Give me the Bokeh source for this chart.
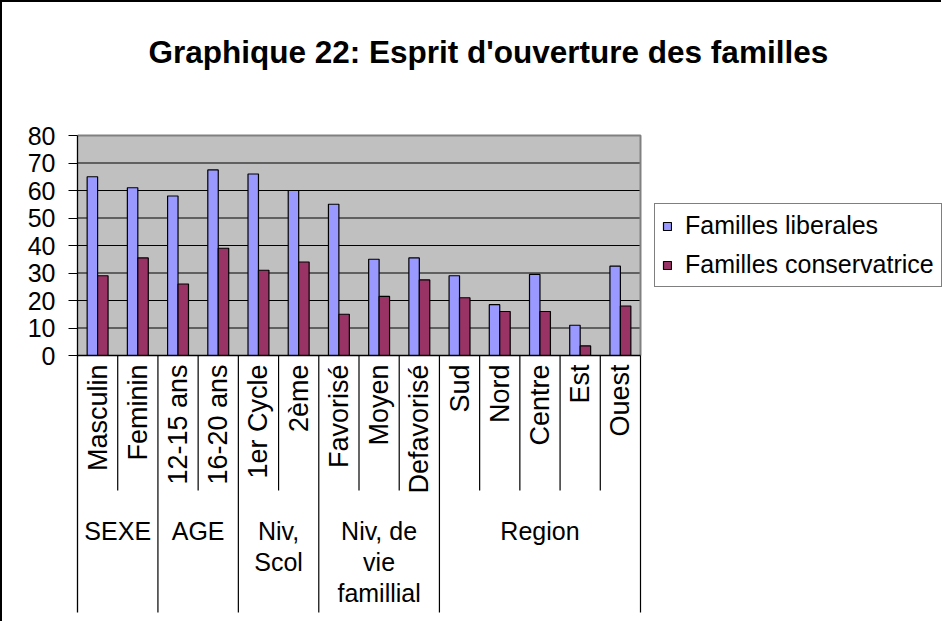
from math import pi
from bokeh.plotting import figure
from bokeh.models import Range1d, FixedTicker, Legend, LegendItem
from bokeh.core.properties import value
from bokeh.embed import file_html
from bokeh.resources import INLINE

# ---------------- data ----------------
title_text = "Graphique 22: Esprit d'ouverture des familles"
categories = ["Masculin", "Feminin", "12-15 ans", "16-20 ans", "1er Cycle", "2ème",
              "Favorisé", "Moyen", "Defavorisé", "Sud", "Nord", "Centre", "Est", "Ouest"]
familles_liberales = [65, 61, 58, 67.5, 66, 60, 55, 35, 35.5, 29, 18.5, 29.5, 11, 32.5]
familles_conservatrices = [29, 35.5, 26, 39, 31, 34, 15, 21.5, 27.5, 21, 16, 16, 3.5, 18]
series_names = ["Familles liberales", "Familles conservatrice"]
group_names = ["SEXE", "AGE", "Niv,\nScol", "Niv, de\nvie\nfamillial", "Region"]
group_sizes = [2, 2, 2, 3, 5]
y_ticks = [0, 10, 20, 30, 40, 50, 60, 70, 80]

# ---------------- layout ----------------
W, H = 941, 621
LEFT, TOP = 75, 75
PX_CAT = 563 / 14
PX_UNIT = 220 / 80
ZERO_Y = 353
AREA_TOP = 133
FONT = "Liberation Sans"

n = len(categories)
ymax = y_ticks[-1]
x_end = (W - LEFT) / PX_CAT
y_start = -(H - ZERO_Y) / PX_UNIT
y_end = ymax + (AREA_TOP - TOP) / PX_UNIT


def px_to_y(canvas_y):
    return -(canvas_y - ZERO_Y) / PX_UNIT


p = figure(width=W, height=H, x_range=Range1d(0, x_end), y_range=Range1d(y_start, y_end),
           output_backend="svg", toolbar_location=None, x_axis_location=None,
           min_border_left=LEFT, min_border_top=TOP, min_border_right=0, min_border_bottom=0,
           outline_line_color=None, background_fill_color="white", border_fill_color="white")
p.styles = {"border-left": "2px solid black", "border-top": "2px solid black"}
p.grid.visible = False

# title
p.title.text = title_text
p.title.align = "left"
p.title.offset = 71
p.title.standoff = 16
p.title.text_font = FONT
p.title.text_font_size = "31.5px"
p.title.text_font_style = "bold"
p.title.text_color = "black"

# plot area
p.quad(left=[0], right=[n], bottom=[0], top=[ymax], fill_color="#C0C0C0", line_color=None)
grid_vals = y_ticks[1:-1]
p.segment(x0=[0] * len(grid_vals), x1=[n] * len(grid_vals), y0=grid_vals, y1=grid_vals,
          line_color="black", line_width=1)
p.line(x=[0, n, n], y=[ymax, ymax, 0], line_color="#808080", line_width=2)

# bars
bw = 0.26
xs = [i + 0.5 for i in range(n)]
r1 = p.vbar(x=[x - bw / 2 for x in xs], top=familles_liberales, bottom=0, width=bw,
            fill_color="#9999FF", line_color="black", line_width=1.2)
r2 = p.vbar(x=[x + bw / 2 for x in xs], top=familles_conservatrices, bottom=0, width=bw,
            fill_color="#993366", line_color="black", line_width=1.2)

p.segment(x0=[0], y0=[0], x1=[n], y1=[0], line_color="black", line_width=1.3)

# category table
bounds = [0]
for s in group_sizes:
    bounds.append(bounds[-1] + s)
inner = [b for b in range(1, n) if b not in bounds]
outer = [b for b in bounds if b > 0]
y_inner = px_to_y(488)
y_outer = px_to_y(610)
p.segment(x0=inner, x1=inner, y0=[0] * len(inner), y1=[y_inner] * len(inner),
          line_color="black", line_width=1.2)
p.segment(x0=outer, x1=outer, y0=[0] * len(outer), y1=[y_outer] * len(outer),
          line_color="black", line_width=1.2)

p.text(x=xs, y=[px_to_y(362)] * n, text=categories, angle=pi / 2,
       text_font=value(FONT), text_font_size="27px", text_color="black",
       text_align="right", text_baseline="middle")

gx = [(bounds[i] + bounds[i + 1]) / 2 for i in range(len(group_sizes))]
p.text(x=gx, y=[px_to_y(514)] * len(gx), text=group_names,
       text_font=value(FONT), text_font_size="25px", text_color="black",
       text_align="center", text_baseline="top", text_line_height=1.11)

# y axis
ax = p.yaxis[0]
ax.ticker = FixedTicker(ticks=y_ticks)
ax.bounds = (y_outer, ymax)
ax.major_tick_in = 0
ax.major_tick_out = 9
ax.minor_tick_line_color = None
ax.major_label_standoff = 13
ax.major_label_text_font = FONT
ax.major_label_text_font_size = "25px"
ax.major_label_text_color = "black"
ax.axis_line_color = "black"
ax.axis_line_width = 1.3
ax.major_tick_line_color = "black"
ax.major_tick_line_width = 1.2

# legend
legend = Legend(items=[LegendItem(label=series_names[0], renderers=[r1]),
                       LegendItem(label=series_names[1], renderers=[r2])],
                location=(577, H - 285))
legend.border_line_color = "black"
legend.border_line_width = 1
legend.background_fill_color = "white"
legend.background_fill_alpha = 1
legend.label_text_font = FONT
legend.label_text_font_size = "25px"
legend.label_text_color = "black"
legend.glyph_width = 10
legend.glyph_height = 10
legend.label_standoff = 13
legend.padding = 7
legend.spacing = 10
legend.margin = 0
p.add_layout(legend)

open("out.html", "w").write(file_html(p, INLINE))
